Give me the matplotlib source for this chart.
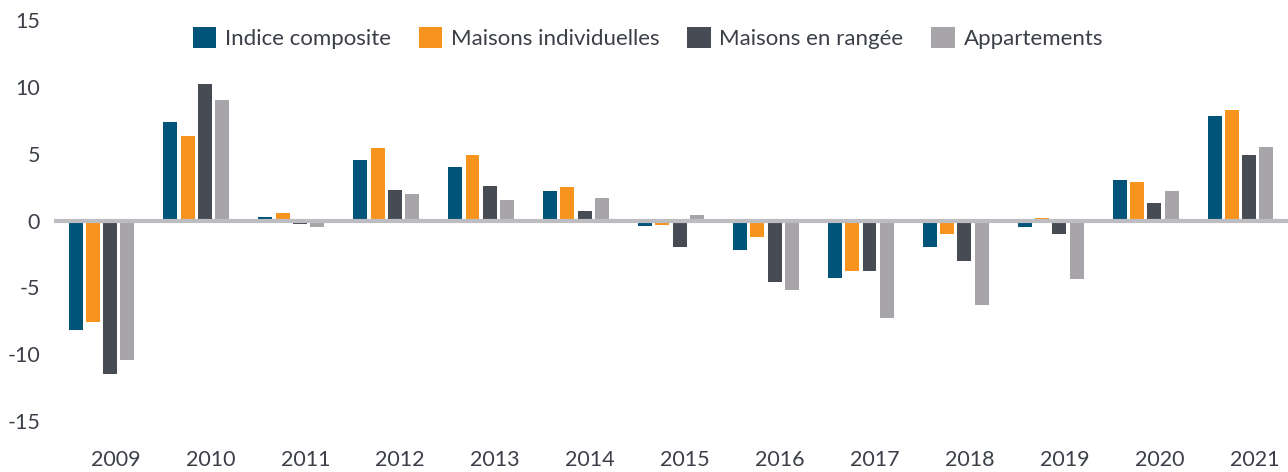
import numpy as np
import matplotlib.pyplot as plt
import matplotlib.transforms as mtransforms

years = ["2009", "2010", "2011", "2012", "2013", "2014", "2015",
         "2016", "2017", "2018", "2019", "2020", "2021"]
indice_composite = [-8.2, 7.4, 0.3, 4.5, 4.0, 2.2, -0.4, -2.2, -4.3, -2.0, -0.5, 3.0, 7.8]
maisons_indiv    = [-7.6, 6.3, 0.55, 5.4, 4.9, 2.5, -0.3, -1.2, -3.8, -1.0, 0.2, 2.9, 8.3]
maisons_rangee   = [-11.5, 10.2, -0.25, 2.3, 2.6, 0.7, -2.0, -4.6, -3.8, -3.0, -1.0, 1.3, 4.9]
appartements     = [-10.4, 9.0, -0.5, 2.0, 1.5, 1.7, 0.4, -5.2, -7.3, -6.3, -4.4, 2.2, 5.5]

series = [indice_composite, maisons_indiv, maisons_rangee, appartements]
labels = ["Indice composite", "Maisons individuelles", "Maisons en rangée", "Appartements"]
colors = ["#00547a", "#f7941d", "#474b54", "#a7a5aa"]
text_color = "#3b3f48"

plt.rcParams['font.family'] = ['Lato', 'DejaVu Sans']
plt.rcParams['axes.unicode_minus'] = False

fig = plt.figure(figsize=(12.88, 4.72), dpi=100)
ax = fig.add_axes([54 / 1288, 0.108, 1 - 54 / 1288, 0.8496])

x = np.arange(len(years))
pitch = 0.182
width = 0.147
for i, (vals, lab, col) in enumerate(zip(series, labels, colors)):
    ax.bar(x + (i - 1.5) * pitch, vals, width, color=col, label=lab, linewidth=0, zorder=2)

ax.axhline(0, color="#bdbcc1", lw=3.0, zorder=3)

ax.set_xlim(-0.5, len(years) - 0.5)
ax.set_ylim(-15, 15)
ax.set_yticks([-15, -10, -5, 0, 5, 10, 15])
ax.set_xticks(x)
ax.set_xticklabels(years)
ax.tick_params(axis='both', length=0, labelsize=15.5, colors=text_color)
ax.tick_params(axis='x', pad=21)
ax.tick_params(axis='y', pad=10)

# year labels sit a bit right of the group centres
offset = mtransforms.ScaledTranslation(0.14, 0, fig.dpi_scale_trans)
for lbl in ax.get_xticklabels():
    lbl.set_transform(lbl.get_transform() + offset)

for s in ax.spines.values():
    s.set_visible(False)

fig.legend(loc='upper center', bbox_to_anchor=(0.503, 0.985), ncol=4, frameon=False,
           fontsize=16, handlelength=1.05, handleheight=1.05, handletextpad=0.4,
           columnspacing=1.25, labelcolor=text_color)

fig.savefig("out.png", dpi=100)
